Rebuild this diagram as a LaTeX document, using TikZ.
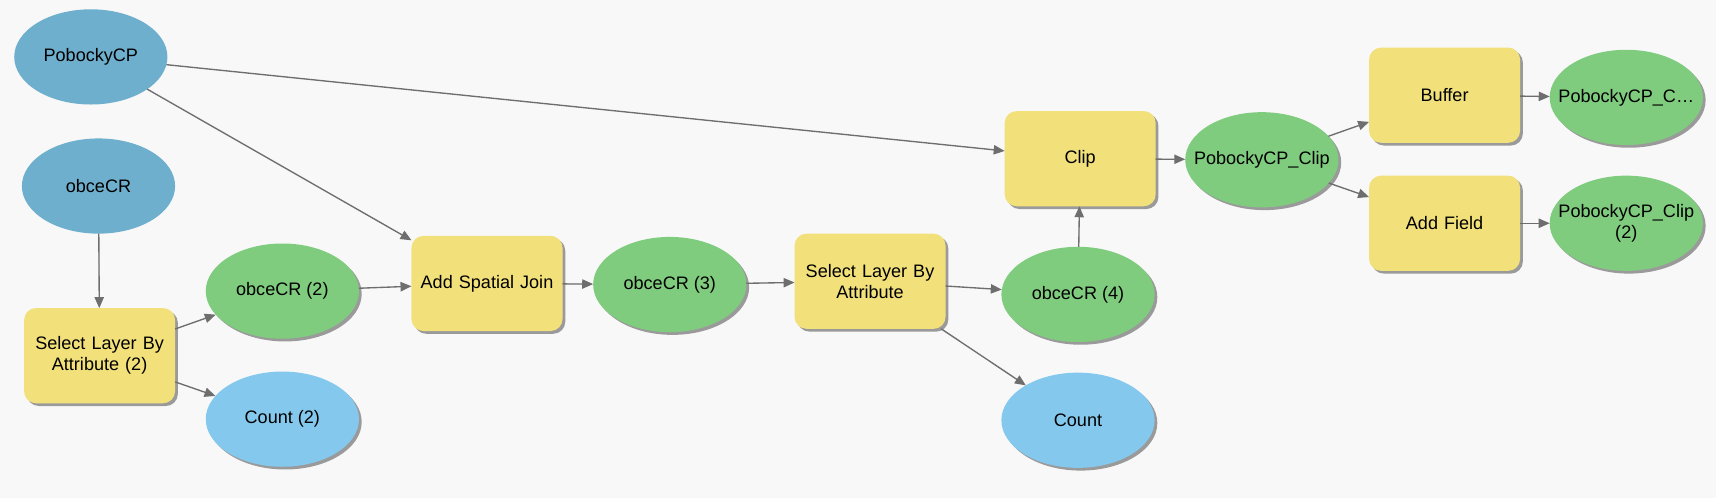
\documentclass[tikz,border=0pt]{standalone}
\usepackage{fontspec}
\setmainfont{Liberation Sans}
\usepackage{xcolor}
\usepackage{tikz}
\usetikzlibrary{positioning, shapes.geometric, arrows.meta, shadows}

\definecolor{bgcol}{HTML}{F8F8F8}
\definecolor{inblue}{HTML}{6FAFCE}
\definecolor{outgreen}{HTML}{80CC7E}
\definecolor{countblue}{HTML}{84C9ED}
\definecolor{toolyellow}{HTML}{F2E17B}
\definecolor{shadowgray}{HTML}{9A9A9A}
\definecolor{linkgray}{HTML}{6E6E6E}

\begin{document}
\begin{tikzpicture}[
    font=\fontsize{9.4}{11}\selectfont,
    shade/.style={drop shadow={shadow xshift=0.05cm, shadow yshift=-0.05cm, fill=shadowgray, opacity=1}},
    indata/.style={ellipse, fill=inblue, minimum width=2.8cm, minimum height=1.74cm, inner xsep=-0.5cm, inner ysep=0pt, outer sep=0pt, align=center},
    outdata/.style={indata, fill=outgreen, shade},
    countdata/.style={indata, fill=countblue, shade},
    tool/.style={rectangle, rounded corners=0.22cm, fill=toolyellow, minimum width=2.76cm, minimum height=1.74cm, text width=2.6cm, inner sep=0pt, outer sep=0pt, align=center, shade},
    arrow/.style={-{Triangle[length=0.2cm, width=0.17cm]}, draw=linkgray, fill=linkgray, line width=0.7pt}
]

\path[use as bounding box, fill=bgcol] (0,0) rectangle (31.36,-9.1);

\node[indata] (pobocky) at (1.66,-1.04) {PobockyCP};
\node[indata, below=0.62cm of pobocky, xshift=0.14cm] (obce) {obceCR};
\node[tool, below=1.36cm of obce, xshift=0.02cm] (select2) {Select Layer By\\Attribute (2)};

\node[outdata, right=0.56cm of select2, yshift=1.18cm] (obce2) {obceCR (2)};
\node[countdata, below=0.6cm of obce2] (count2) {Count (2)};

\node[tool, right=0.96cm of obce2, yshift=0.14cm] (join) {Add Spatial Join};
\node[outdata, right=0.56cm of join, yshift=-0.02cm] (obce3) {obceCR (3)};
\node[tool, right=0.88cm of obce3, yshift=0.06cm] (select) {Select Layer By\\Attribute};
\node[outdata, right=1.02cm of select, yshift=-0.24cm] (obce4) {obceCR (4)};
\node[countdata, below=0.56cm of obce4] (count) {Count};

\node[tool, above=0.74cm of obce4, xshift=0.04cm] (clip) {Clip};
\node[outdata, right=0.54cm of clip, yshift=-0.02cm] (pclip) {PobockyCP\_Clip};

\node[tool, right=0.56cm of pclip, yshift=1.18cm] (buffer) {Buffer};
\node[tool, below=0.6cm of buffer] (field) {Add Field};
\node[outdata, right=0.54cm of buffer, yshift=-0.04cm] (pbuffer) {PobockyCP\_C…};
\node[outdata, right=0.54cm of field] (pfield) {PobockyCP\_Clip\\(2)};

\foreach \source/\dest in {
    pobocky/clip, pobocky/join,
    obce/select2, select2/obce2, select2/count2,
    obce2/join, join/obce3, obce3/select,
    select/obce4, select/count, obce4/clip,
    clip/pclip, pclip/buffer, pclip/field,
    buffer/pbuffer, field/pfield}
    \draw[arrow] (\source) -- (\dest);

\end{tikzpicture}
\end{document}
